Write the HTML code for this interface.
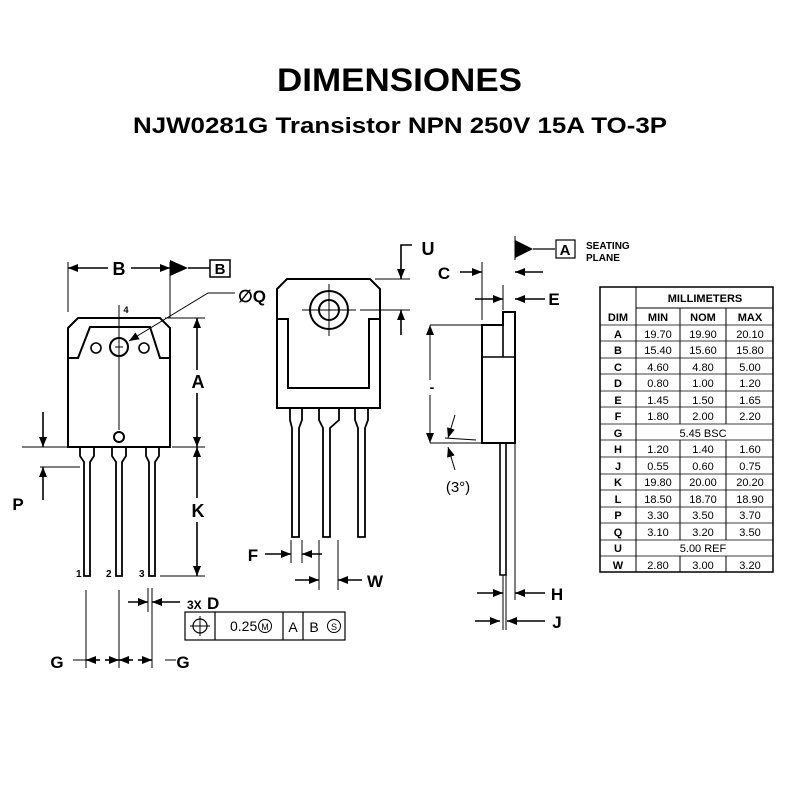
<!DOCTYPE html>
<html><head><meta charset="utf-8"><style>
body{margin:0;background:#fff;width:800px;height:800px;overflow:hidden}
svg{display:block}
text{font-family:"Liberation Sans",Arial,sans-serif;fill:#000}
.t{font-weight:bold}
</style></head><body>
<svg width="800" height="800" viewBox="0 0 800 800">
<defs>
<marker id="a" markerWidth="10" markerHeight="8" refX="10" refY="4" orient="auto" markerUnits="userSpaceOnUse"><path d="M0,0 L10,4 L0,8 Z" fill="#000"/></marker>
</defs>
<text x="277" y="91" class="t" font-size="32" textLength="245" lengthAdjust="spacingAndGlyphs">DIMENSIONES</text>
<text x="133" y="133" class="t" font-size="22" textLength="534" lengthAdjust="spacingAndGlyphs">NJW0281G Transistor NPN 250V 15A TO-3P</text>

<g stroke="#000" fill="none" stroke-width="1.6">
<!-- LEFT VIEW -->
<path d="M68,328 L78,318 L160,318 L170,328 L170,447 L68,447 Z" stroke-width="2"/>
<path d="M68,358 L78,358 L90,327 L150,327 L160,358 L170,358" stroke-width="2"/>
<circle cx="119" cy="347" r="9" stroke-width="2"/>
<circle cx="96" cy="348" r="5"/><circle cx="144" cy="348" r="5"/>
<circle cx="119" cy="437" r="5" stroke-width="2"/>
<path d="M119,305 V430 M115,347 H123 M119,343 V351" stroke-width="1"/>
<path d="M80,447 V456 L84,462 V576 H90 V462 L94,456 V447" stroke-width="1.8"/>
<path d="M112,447 V456 L116,462 V576 H122 V462 L126,456 V447" stroke-width="1.8"/>
<path d="M146,447 V456 L149,462 V576 H155 V462 L159,456 V447" stroke-width="1.8"/>
<path d="M68,262 V312 M170,262 V318" stroke-width="1"/>
<path d="M108,268 H68" marker-end="url(#a)"/><path d="M131,268 H170" marker-end="url(#a)"/>
<path d="M170,260 L188,268 L170,276 Z" fill="#000" stroke="none"/>
<path d="M188,268 H210"/>
<rect x="210" y="260" width="20" height="17" stroke-width="1.5"/>
<path d="M235,293 H208 L129,341" stroke-width="1" marker-end="url(#a)"/>
<path d="M165,318 H205 M172,447 H205 M160,576 H205" stroke-width="1"/>
<path d="M197,370 V318" marker-end="url(#a)"/><path d="M197,393 V447" marker-end="url(#a)"/>
<path d="M197,498 V447" marker-end="url(#a)"/><path d="M197,522 V576" marker-end="url(#a)"/>
<path d="M22,447 H68 M40,467 H80" stroke-width="1"/>
<path d="M43,412 V447" marker-end="url(#a)"/><path d="M43,500 V467" marker-end="url(#a)"/>
<path d="M148,588 V612 M152,588 V612" stroke-width="1"/>
<path d="M128,602 H148" marker-end="url(#a)"/><path d="M180,602 H152" marker-end="url(#a)"/>
<rect x="185" y="612" width="160" height="28" stroke-width="1.2"/>
<path d="M215,612 V640 M283,612 V640 M303,612 V640" stroke-width="1.2"/>
<circle cx="200" cy="626" r="7" stroke-width="1.2"/><path d="M190,626 H210 M200,616 V636" stroke-width="1"/>
<circle cx="265" cy="626" r="6.5" stroke-width="1"/><circle cx="334" cy="626" r="6.5" stroke-width="1"/>
<path d="M86,590 V668 M119,590 V668 M152,590 V668" stroke-width="1"/>
<path d="M73,660 H86 M165,660 H176" stroke-width="1"/>
<path d="M100,660 H86" marker-end="url(#a)"/><path d="M105,660 H119" marker-end="url(#a)"/>
<path d="M133,660 H119" marker-end="url(#a)"/><path d="M138,660 H152" marker-end="url(#a)"/>

<!-- MIDDLE VIEW -->
<path d="M277,289 L287,279 L370,279 L380,289 L380,408 L277,408 Z" stroke-width="2"/>
<path d="M277,319 H288 V388 H369 V319 H380" stroke-width="2"/>
<circle cx="329" cy="310" r="19" stroke-width="2"/><circle cx="329" cy="310" r="10" stroke-width="2"/>
<path d="M302,310 H356 M329,284 V336" stroke-width="1"/>
<path d="M290,408 V420 L292,428 V537 H299 V428 L302,420 V408" stroke-width="1.8"/>
<path d="M319,408 V420 L323,428 V537 H330 V428 L339,420 V408" stroke-width="1.8"/>
<path d="M355,408 V420 L358,428 V537 H365 V428 L368,420 V408" stroke-width="1.8"/>
<path d="M375,279 H410 M360,310 H410" stroke-width="1"/>
<path d="M412,245 H401 V279" marker-end="url(#a)"/>
<path d="M401,335 V310" marker-end="url(#a)"/>
<path d="M291,540 V563 M302,540 V563 M319,540 V590 M338,540 V590" stroke-width="1"/>
<path d="M265,554 H291" marker-end="url(#a)"/><path d="M322,554 H302" marker-end="url(#a)"/>
<path d="M295,580 H319" marker-end="url(#a)"/><path d="M362,580 H338" marker-end="url(#a)"/>

<!-- SIDE VIEW -->
<path d="M482,325 H503 V312 H515 V443 H482 Z" stroke-width="2"/>
<path d="M482,357 H515 M503,325 V357" stroke-width="1.6"/>
<path d="M500,443 V575 H506 V443" stroke-width="1.6"/>
<path d="M515,443 V600 M503,575 V630 M506,575 V630" stroke-width="1"/>
<path d="M482,262 V320 M503,285 V310 M515,236 V260" stroke-width="1"/>
<path d="M515,240 L533,249 L515,258 Z" fill="#000" stroke="none"/>
<path d="M533,249 H555" stroke-width="1.2"/>
<rect x="556" y="240" width="19" height="18" stroke-width="1.2"/>
<path d="M460,272 H482" marker-end="url(#a)"/><path d="M543,272 H515" marker-end="url(#a)"/>
<path d="M475,299 H503" marker-end="url(#a)"/><path d="M545,299 H515" marker-end="url(#a)"/>
<path d="M430,325 H482 M430,443 H482" stroke-width="1"/>
<path d="M430,380 V325" marker-end="url(#a)" stroke-width="1"/><path d="M430,395 V443" marker-end="url(#a)" stroke-width="1"/>
<path d="M445,438 L476,440" stroke-width="1"/>
<path d="M455,415 L448,438" marker-end="url(#a)" stroke-width="1"/>
<path d="M455,470 L448,447" marker-end="url(#a)" stroke-width="1"/>
<path d="M477,593 H503" marker-end="url(#a)"/><path d="M545,593 H515" marker-end="url(#a)"/>
<path d="M475,621 H500" marker-end="url(#a)"/><path d="M545,621 H507" marker-end="url(#a)"/>

<!-- TABLE -->
<rect x="600" y="287" width="173" height="285" stroke-width="1.5"/>
<path d="M636,287 V572 M680,308 V424 M726,308 V424 M680,440 V540 M726,440 V540 M680,556 V572 M726,556 V572 M636,308 H773" stroke-width="1"/>
</g>

<g class="t">
<text x="119" y="275" text-anchor="middle" font-size="18">B</text>
<text x="220" y="274" text-anchor="middle" font-size="15">B</text>
<text x="238" y="302" font-size="17">∅Q</text>
<text x="126" y="313" text-anchor="middle" font-size="9">4</text>
<text x="198" y="388" text-anchor="middle" font-size="18">A</text>
<text x="198" y="517" text-anchor="middle" font-size="18">K</text>
<text x="18" y="510" text-anchor="middle" font-size="17">P</text>
<text x="76" y="577" font-size="10">1</text><text x="106" y="577" font-size="10">2</text><text x="139" y="577" font-size="10">3</text>
<text x="187" y="609" font-size="12">3X</text><text x="207" y="609" font-size="17">D</text>
<text x="57" y="668" text-anchor="middle" font-size="17">G</text>
<text x="183" y="668" text-anchor="middle" font-size="17">G</text>
<text x="428" y="255" text-anchor="middle" font-size="18">U</text>
<text x="253" y="561" text-anchor="middle" font-size="17">F</text>
<text x="375" y="587" text-anchor="middle" font-size="17">W</text>
<text x="444" y="279" text-anchor="middle" font-size="17">C</text>
<text x="554" y="305" text-anchor="middle" font-size="17">E</text>
<text x="565" y="255" text-anchor="middle" font-size="15">A</text>
<text x="586" y="249" font-size="10">SEATING</text>
<text x="586" y="261" font-size="10">PLANE</text>
<text x="432" y="392" text-anchor="middle" font-size="14">-</text>
<text x="557" y="600" text-anchor="middle" font-size="17">H</text>
<text x="557" y="628" text-anchor="middle" font-size="17">J</text>
</g>
<text x="458" y="492" text-anchor="middle" font-size="15">(3°)</text>
<g font-size="14"><text x="230" y="631">0.25</text><text x="265" y="630" text-anchor="middle" font-size="9">M</text>
<text x="293" y="632" text-anchor="middle">A</text><text x="314" y="632" text-anchor="middle">B</text><text x="334" y="630" text-anchor="middle" font-size="9">S</text></g>

<g font-size="11" text-anchor="middle">
<text x="705" y="302" class="t">MILLIMETERS</text>
<text x="618" y="321" class="t">DIM</text><text x="658" y="321" class="t">MIN</text><text x="703" y="321" class="t">NOM</text><text x="750" y="321" class="t">MAX</text>
</g>
<g font-size="11" text-anchor="middle">
<text x="618" y="338" class="t">A</text><text x="658" y="338">19.70</text><text x="703" y="338">19.90</text><text x="750" y="338">20.10</text>
<text x="618" y="354" class="t">B</text><text x="658" y="354">15.40</text><text x="703" y="354">15.60</text><text x="750" y="354">15.80</text>
<text x="618" y="371" class="t">C</text><text x="658" y="371">4.60</text><text x="703" y="371">4.80</text><text x="750" y="371">5.00</text>
<text x="618" y="387" class="t">D</text><text x="658" y="387">0.80</text><text x="703" y="387">1.00</text><text x="750" y="387">1.20</text>
<text x="618" y="404" class="t">E</text><text x="658" y="404">1.45</text><text x="703" y="404">1.50</text><text x="750" y="404">1.65</text>
<text x="618" y="420" class="t">F</text><text x="658" y="420">1.80</text><text x="703" y="420">2.00</text><text x="750" y="420">2.20</text>
<text x="618" y="437" class="t">G</text><text x="703" y="437">5.45 BSC</text>
<text x="618" y="453" class="t">H</text><text x="658" y="453">1.20</text><text x="703" y="453">1.40</text><text x="750" y="453">1.60</text>
<text x="618" y="470" class="t">J</text><text x="658" y="470">0.55</text><text x="703" y="470">0.60</text><text x="750" y="470">0.75</text>
<text x="618" y="486" class="t">K</text><text x="658" y="486">19.80</text><text x="703" y="486">20.00</text><text x="750" y="486">20.20</text>
<text x="618" y="503" class="t">L</text><text x="658" y="503">18.50</text><text x="703" y="503">18.70</text><text x="750" y="503">18.90</text>
<text x="618" y="519" class="t">P</text><text x="658" y="519">3.30</text><text x="703" y="519">3.50</text><text x="750" y="519">3.70</text>
<text x="618" y="536" class="t">Q</text><text x="658" y="536">3.10</text><text x="703" y="536">3.20</text><text x="750" y="536">3.50</text>
<text x="618" y="552" class="t">U</text><text x="703" y="552">5.00 REF</text>
<text x="618" y="569" class="t">W</text><text x="658" y="569">2.80</text><text x="703" y="569">3.00</text><text x="750" y="569">3.20</text>
</g>
<g stroke="#000" stroke-width="0.8">
<path d="M600,325 H773 M600,341 H773 M600,358 H773 M600,374 H773 M600,391 H773 M600,407 H773 M600,424 H773 M600,440 H773 M600,457 H773 M600,474 H773 M600,490 H773 M600,507 H773 M600,523 H773 M600,540 H773 M600,556 H773"/>
</g>
</svg>
</body></html>
